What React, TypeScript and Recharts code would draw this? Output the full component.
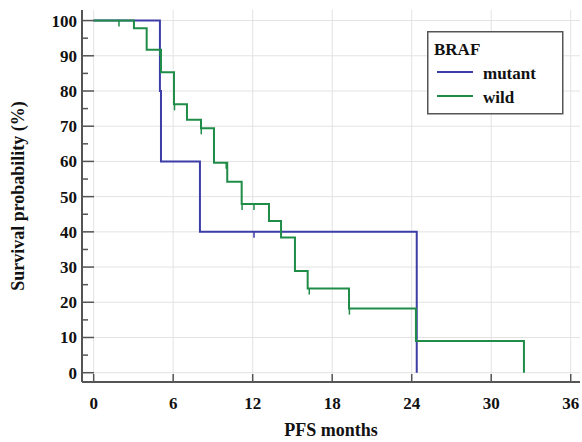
import React from 'react';
import { ComposedChart, Line, Scatter, XAxis, YAxis, CartesianGrid } from 'recharts';

// ---- data ----
const mutantTimes = [0, 5.0, 5.08, 8.02, 24.38];
const mutantSurv = [100, 80, 60, 40, 0];
const mutantCensorTimes = [12.1];
const mutantCensorSurv = [40];

const wildTimes = [0, 3.04, 4.0, 5.08, 6.06, 7.04, 8.1, 9.08, 10.08, 11.17, 13.23, 14.14, 15.19, 16.15, 19.27, 24.32, 32.47];
const wildSurv = [100, 97.8, 91.7, 85.3, 76.2, 71.8, 69.4, 59.6, 54.2, 47.9, 43.1, 38.4, 28.9, 23.9, 18.2, 9.0, 0];
const wildCensorTimes = [1.91, 5.0, 6.1, 8.12, 10.0, 11.2, 12.1, 16.27, 19.3];
const wildCensorSurv = [100, 91.7, 76.2, 69.4, 59.6, 47.9, 47.9, 23.9, 18.2];

const xTicks = [0, 6, 12, 18, 24, 30, 36];
const yTicks = [0, 5, 10, 15, 20, 25, 30, 35, 40, 45, 50, 55, 60, 65, 70, 75, 80, 85, 90, 95, 100];
const yGrid = [0, 10, 20, 30, 40, 50, 60, 70, 80, 90, 100];

const legendTitle = 'BRAF';
const seriesNames = ['mutant', 'wild'];
const seriesColors = ['#3d3da8', '#1f8c48'];

const xTitle = 'PFS months';
const yTitle = 'Survival probability (%)';

const toPts = (t: number[], s: number[]) => t.map((v, i) => ({ t: v, s: s[i] }));
const mutantData = toPts(mutantTimes, mutantSurv);
const wildData = toPts(wildTimes, wildSurv);
const mutantCensor = toPts(mutantCensorTimes, mutantCensorSurv);
const wildCensor = toPts(wildCensorTimes, wildCensorSurv);

const FONT = '"Liberation Serif", "Times New Roman", serif';
const AXIS = '#555';
const Y_TICK_MARGIN = 5;

const YTick = (props: any) => {
  const { x, y, payload } = props;
  const v = payload.value;
  const major = v % 10 === 0;
  const ax = x + Y_TICK_MARGIN + 1;
  return (
    <g>
      <line x1={ax} x2={ax + (major ? 11 : 5)} y1={y} y2={y} stroke={AXIS} strokeWidth={1.5} />
      {major && (
        <text x={x} y={y} dy="0.35em" textAnchor="end" fontFamily={FONT} fontWeight="bold" fontSize={17} fill="#111">
          {v}
        </text>
      )}
    </g>
  );
};

const censorShape = (color: string) => (props: any) => {
  const { cx, cy } = props;
  return <line x1={cx} x2={cx} y1={cy} y2={cy + 6} stroke={color} strokeWidth={1.5} />;
};

const YLabel = (props: any) => {
  const vb = props.viewBox;
  const x = vb.x + 18;
  const y = vb.y + vb.height / 2;
  return (
    <text x={x} y={y} dy="0.35em" transform={`rotate(-90, ${x}, ${y})`} textAnchor="middle" fontFamily={FONT} fontWeight="bold" fontSize={18} fill="#111">
      {yTitle}
    </text>
  );
};

export default function App() {
  return (
    <div style={{ position: 'absolute', left: 0, top: 0, width: 582, height: 442, background: '#fff' }}>
      <ComposedChart width={582} height={442} margin={{ top: 10, right: 2, left: 0, bottom: 0 }}>
        <CartesianGrid stroke="#e3e3e3" strokeWidth={1} horizontalValues={yGrid} verticalValues={xTicks} />
        <XAxis
          type="number"
          dataKey="t"
          domain={[-0.88, 36.7]}
          allowDataOverflow
          ticks={xTicks}
          interval={0}
          height={60}
          tickSize={-8}
          tickMargin={23}
          axisLine={{ stroke: AXIS, strokeWidth: 2 }}
          tickLine={{ stroke: AXIS, strokeWidth: 1.5 }}
          tick={{ fontFamily: FONT, fontWeight: 'bold', fontSize: 17, fill: '#111' }}
          label={{ value: xTitle, position: 'insideBottom', offset: 6, style: { fontFamily: FONT, fontWeight: 'bold', fontSize: 18, fill: '#111' } }}
        />
        <YAxis
          type="number"
          dataKey="s"
          domain={[-2.64, 103.0]}
          allowDataOverflow
          ticks={yTicks}
          interval={0}
          width={82}
          tickSize={0}
          tickMargin={Y_TICK_MARGIN}
          tickLine={false}
          axisLine={{ stroke: AXIS, strokeWidth: 2 }}
          tick={<YTick />}
          label={<YLabel />}
        />
        <Line data={mutantData} dataKey="s" type="stepAfter" stroke={seriesColors[0]} strokeWidth={2} dot={false} activeDot={false} isAnimationActive={false} name={seriesNames[0]} />
        <Line data={wildData} dataKey="s" type="stepAfter" stroke={seriesColors[1]} strokeWidth={2} dot={false} activeDot={false} isAnimationActive={false} name={seriesNames[1]} />
        <Scatter data={mutantCensor} dataKey="s" shape={censorShape(seriesColors[0])} isAnimationActive={false} />
        <Scatter data={wildCensor} dataKey="s" shape={censorShape(seriesColors[1])} isAnimationActive={false} />
      </ComposedChart>
      <svg width={137} height={84} style={{ position: 'absolute', left: 427, top: 31 }}>
        <rect x={0.75} y={0.75} width={135} height={82} fill="#fff" stroke={AXIS} strokeWidth={1.5} />
        <text x={7} y={24} fontFamily={FONT} fontWeight="bold" fontSize={17} fill="#111">{legendTitle}</text>
        {seriesNames.map((n, i) => (
          <g key={n}>
            <line x1={10} x2={46} y1={41 + 24 * i} y2={41 + 24 * i} stroke={seriesColors[i]} strokeWidth={2} />
            <text x={56} y={41 + 24 * i + 7} fontFamily={FONT} fontWeight="bold" fontSize={17} fill="#111">{n}</text>
          </g>
        ))}
      </svg>
    </div>
  );
}
